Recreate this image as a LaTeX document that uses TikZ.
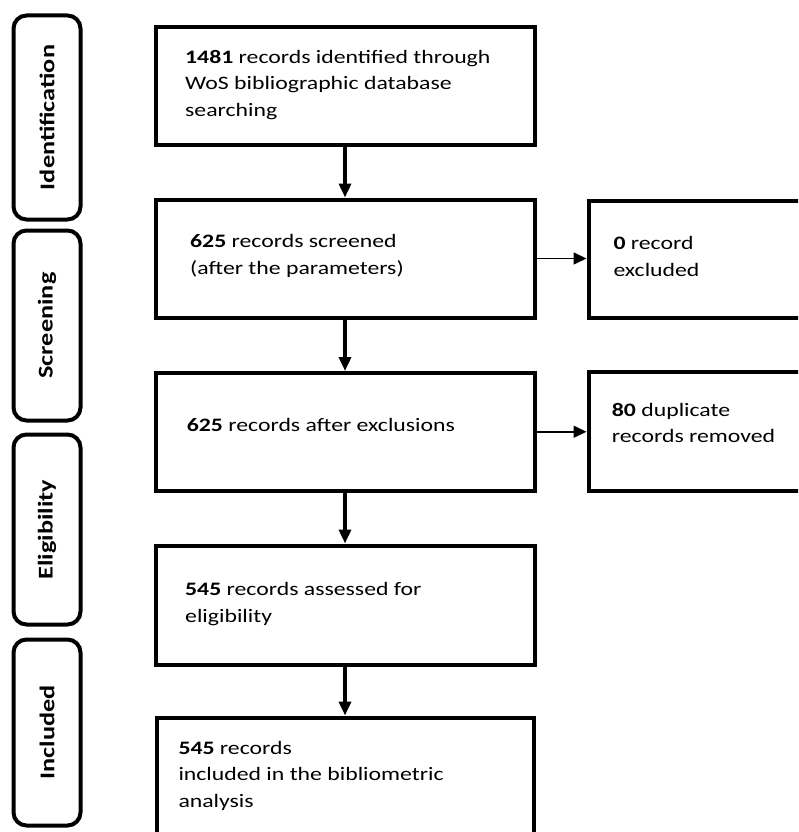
\documentclass[tikz,border=0pt]{standalone}
\usepackage{fontspec}
\setmainfont{Carlito}[FakeStretch=1.25]
\usetikzlibrary{arrows.meta}

\tikzset{
  stagebox/.style={draw=black, line width=4pt, rounded corners=13pt, fill=white,
    inner sep=0pt, outer sep=0pt},
  stagetext/.style={rotate=90, inner sep=0pt, text=black,
    font=\fontsize{21}{25}\selectfont\bfseries},
  flowbox/.style={draw=black, line width=4pt, fill=white, inner sep=0pt},
  % multi-line texts: the base anchor sits on the last line's baseline
  flowtext/.style={anchor=base west, inner sep=0pt, align=left, text=black,
    font=\fontsize{19}{26.7}\selectfont},
  downarrow/.style={line width=3.5pt, -{Triangle[length=14pt, width=12pt]}},
  sidearrow/.style={line width=1.6pt, -{Triangle[length=13pt, width=12pt]}}
}

\begin{document}
\begin{tikzpicture}[x=1pt, y=-1pt]
\useasboundingbox (0,0) rectangle (798,832);
\clip (0,0) rectangle (798,832);
\fill[white] (0,0) rectangle (798,832);

% stage labels on the left
\node[stagebox, minimum width=67pt, minimum height=204pt] (sIdent) at (47,117.5) {};
\node[stagebox, minimum width=67pt, minimum height=190pt] (sScreen) at (47,325.5) {};
\node[stagebox, minimum width=67pt, minimum height=190pt] (sElig) at (47,529.5) {};
\node[stagebox, minimum width=67pt, minimum height=186pt] (sIncl) at (47,732.5) {};
\node[stagetext] (tIdent) at (sIdent) {Identification};
\node[stagetext] (tScreen) at (sScreen) {Screening};
\node[stagetext] (tElig) at (sElig) {Eligibility};
\node[stagetext] (tIncl) at (sIncl) {Included};

% main flow boxes
\node[flowbox, minimum width=379pt, minimum height=117pt] (b1) at (345,86) {};
\node[flowbox, minimum width=379pt, minimum height=118pt] (b2) at (345,258.5) {};
\node[flowbox, minimum width=379pt, minimum height=117.5pt] (b3) at (345,431.75) {};
\node[flowbox, minimum width=379pt, minimum height=119pt] (b4) at (345,605) {};
\node[flowbox, minimum width=377pt, minimum height=140pt] (b5) at (345,787.5) {};

% side boxes
\node[flowbox, minimum width=232pt, minimum height=117pt] (r1) at (704.5,259) {};
\node[flowbox, minimum width=232pt, minimum height=119pt] (r2) at (704.5,431) {};

% box texts
\node[flowtext] (x1) at (185,116.4) {\textbf{1481} records identified through\\WoS bibliographic database\\searching};
\node[flowtext] (x2) at (190,274) {\textbf{625} records screened\\(after the parameters)};
\node[flowtext] (x3) at (186.7,431.7) {\textbf{625} records after exclusions};
\node[flowtext] (x4) at (185,622.4) {\textbf{545} records assessed for\\eligibility};
\node[flowtext] (x5) at (178.3,807.4) {\textbf{545} records\\included in the bibliometric\\analysis};
\node[flowtext] (y1) at (613.3,276) {\textbf{0} record\\excluded};
\node[flowtext] (y2) at (611.7,442.7) {\textbf{80} duplicate\\records removed};

% connectors
\draw[downarrow] (b1.south) -- (b2.north);
\draw[downarrow] (b2.south) -- (b3.north);
\draw[downarrow] (b3.south) -- (b4.north);
\draw[downarrow] (b4.south) -- (b5.north);
\draw[sidearrow] (b2.east) -- (b2.east -| r1.west);
\draw[sidearrow] (b3.east) -- (b3.east -| r2.west);
\end{tikzpicture}
\end{document}
